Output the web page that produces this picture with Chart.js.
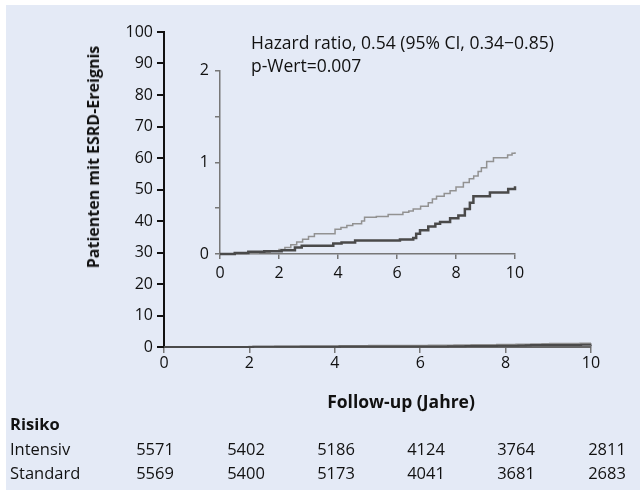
<!DOCTYPE html>
<html>
<head>
<meta charset="utf-8">
<script src="https://cdn.jsdelivr.net/npm/chart.js@4.4.0/dist/chart.umd.min.js"></script>
<style>
  body { margin: 0; background: #fff; font-family: "Open Sans", sans-serif; color: #111; }
  #wrap { position: relative; width: 640px; height: 494px; overflow: hidden; }
  #panel { position: absolute; left: 6px; top: 5px; width: 634px; height: 485px; background: #e4eaf6; }
  #main { position: absolute; left: 0; top: 0; }
  #inset { position: absolute; left: 180px; top: 55px; }
  .t { position: absolute; white-space: nowrap; font-size: 16.5px; line-height: 20px; }
  .b { font-weight: bold; }
  .c { transform: translateX(-50%); }
  .ann { font-size: 17.5px; }
  #ytitle { left: 93px; top: 157px; transform: translate(-50%, -50%) rotate(-90deg); font-size: 16px; }
  #xtitle { left: 401px; top: 401px; transform: translate(-50%, -50%); font-size: 17.5px; }
</style>
</head>
<body>
<div id="wrap">
  <div id="panel"></div>
  <canvas id="main" width="640" height="494"></canvas>
  <canvas id="inset" width="360" height="235"></canvas>
  <div class="t ann" style="left:251px; top:32px;">Hazard ratio, 0.54 (95% CI, 0.34−0.85)</div>
  <div class="t ann" style="left:251px; top:55px;">p-Wert=0.007</div>
  <div class="t b" id="ytitle">Patienten mit ESRD-Ereignis</div>
  <div class="t b" id="xtitle">Follow-up (Jahre)</div>
  <div id="risk"></div>
</div>
<script>
// cumulative ESRD events (%)
const intensivX = [0, 0.5, 0.96, 1.5, 2.09, 2.54, 2.77, 3.84, 4.12, 4.58, 6.1, 6.55, 6.65, 6.78, 7.06, 7.3, 7.46, 7.8, 8.08, 8.3, 8.47, 8.59, 9.15, 9.77, 10]
const intensivY = [0, 0.01, 0.025, 0.03, 0.04, 0.07, 0.09, 0.115, 0.125, 0.147, 0.158, 0.175, 0.22, 0.26, 0.30, 0.33, 0.35, 0.39, 0.42, 0.49, 0.56, 0.63, 0.67, 0.71, 0.74]

const standardX = [0, 0.5, 0.9, 1.3, 1.7, 2.0, 2.2, 2.4, 2.6, 2.8, 3.0, 3.2, 3.9, 4.1, 4.3, 4.5, 4.8, 4.9, 5.3, 5.7, 6.2, 6.4, 6.55, 6.8, 7.06, 7.2, 7.34, 7.6, 7.8, 8.0, 8.25, 8.45, 8.6, 8.75, 8.86, 9.04, 9.27, 9.75, 9.9, 10]
const standardY = [0, 0.006, 0.012, 0.02, 0.03, 0.05, 0.07, 0.10, 0.13, 0.16, 0.19, 0.22, 0.27, 0.29, 0.31, 0.33, 0.36, 0.40, 0.41, 0.43, 0.455, 0.47, 0.49, 0.52, 0.56, 0.60, 0.63, 0.66, 0.69, 0.73, 0.78, 0.82, 0.85, 0.90, 0.94, 1.01, 1.05, 1.08, 1.10, 1.11]

// number at risk
const riskYears = [0, 2, 4, 6, 8, 10]
const riskIntensiv = [5571, 5402, 5186, 4124, 3764, 2811]
const riskStandard = [5569, 5400, 5173, 4041, 3681, 2683]

const font = {family: 'Open Sans', size: 16}
const toPts = (xs, ys) => xs.map((x, i) => ({x: x, y: ys[i]}))

function lineSets(wI, wS) {
    return [
        {label: 'Intensiv', data: toPts(intensivX, intensivY), borderColor: '#4a4a4a', borderWidth: wI, stepped: true, pointRadius: 0, clip: false},
        {label: 'Standard', data: toPts(standardX, standardY), borderColor: '#929292', borderWidth: wS, stepped: true, pointRadius: 0, clip: false}
    ]
}

// main chart
new Chart(document.getElementById('main'), {
    type: 'line',
    data: {datasets: lineSets(2, 2)},
    options: {
        responsive: false,
        animation: false,
        layout: {padding: {left: 0, right: 49, top: 32, bottom: 117}},
        plugins: {legend: {display: false}, tooltip: {enabled: false}},
        scales: {
            x: {
                type: 'linear', min: 0, max: 10,
                ticks: {stepSize: 2, color: '#111', font: font, padding: 1},
                grid: {drawOnChartArea: false, tickLength: 6, color: '#777', lineWidth: 1.5},
                border: {color: '#666', width: 2},
                afterFit: s => { s.height = 30 }
            },
            y: {
                min: 0, max: 100,
                ticks: {stepSize: 10, color: '#111', font: font, padding: 4},
                grid: {drawOnChartArea: false, tickLength: 7, color: '#111', lineWidth: 2},
                border: {color: '#111', width: 2},
                afterFit: s => { s.width = 164 }
            }
        }
    }
})

// inset chart
new Chart(document.getElementById('inset'), {
    type: 'line',
    data: {datasets: lineSets(2.5, 1.5)},
    options: {
        responsive: false,
        animation: false,
        layout: {padding: {left: 0, right: 25, top: 13, bottom: 0}},
        plugins: {legend: {display: false}, tooltip: {enabled: false}},
        scales: {
            x: {
                type: 'linear', min: 0, max: 10,
                ticks: {stepSize: 2, color: '#111', font: font, padding: 5},
                grid: {drawOnChartArea: false, tickLength: 5, color: '#777', lineWidth: 1.5},
                border: {color: '#777', width: 1.5},
                afterFit: s => { s.height = 36 }
            },
            y: {
                min: 0, max: 2,
                ticks: {stepSize: 0.5, color: '#111', font: font, padding: 6,
                    callback: v => Number.isInteger(v) ? v : ''},
                grid: {drawOnChartArea: false, tickLength: 5, color: '#777', lineWidth: 1.5},
                border: {color: '#777', width: 1.5},
                afterFit: s => { s.width = 40 }
            }
        }
    }
})

// risk table
const colCenter = [155, 246, 336, 426, 516, 607]
let html = '<div class="t b" style="left:10px; top:414px;">Risiko</div>'
html += '<div class="t" style="left:10px; top:439px;">Intensiv</div>'
html += '<div class="t" style="left:10px; top:463px;">Standard</div>'
riskYears.forEach((yr, i) => {
    html += '<div class="t c" style="left:' + colCenter[i] + 'px; top:439px;">' + riskIntensiv[i] + '</div>'
    html += '<div class="t c" style="left:' + colCenter[i] + 'px; top:463px;">' + riskStandard[i] + '</div>'
})
document.getElementById('risk').innerHTML = html
</script>
</body>
</html>
